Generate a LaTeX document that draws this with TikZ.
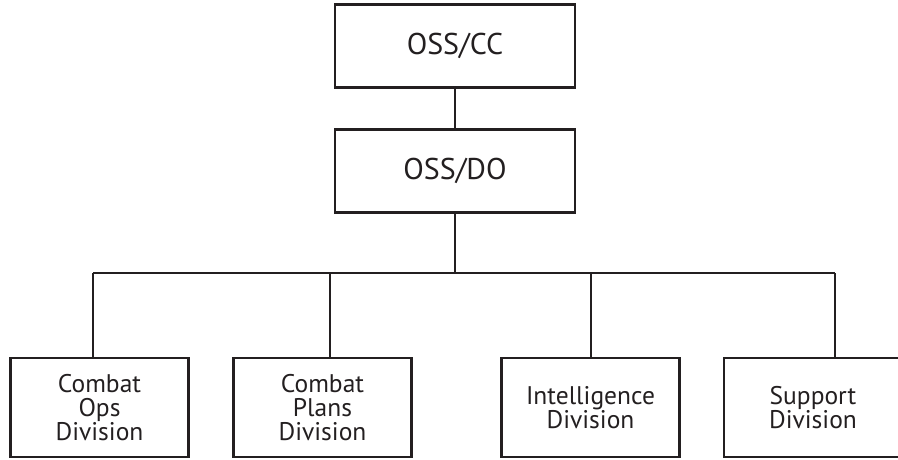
\documentclass[tikz,border=0pt]{standalone}
\usepackage{fontspec}
\setmainfont{PT Sans}
\definecolor{ink}{HTML}{231F20}
\begin{document}
\begin{tikzpicture}[x=1pt,y=1pt,
  topbox/.style={draw=ink, line width=2.7pt, minimum width=240pt, minimum height=83pt, inner sep=0pt, text=ink, font=\fontsize{30}{30}\selectfont},
  divbox/.style={draw=ink, line width=2.7pt, minimum width=178pt, minimum height=99pt, inner sep=0pt, align=center, text=ink, font=\fontsize{25.5}{24}\selectfont},
  conn/.style={draw=ink, line width=2.7pt}]
\useasboundingbox (0,0) rectangle (898,459);
\node[topbox] (cc) at (455,413) {OSS/CC};
\node[topbox] (do) at (455,288) {OSS/DO};
\node[divbox] (b1) at (99.5,51.5) {Combat\\Ops\\Division};
\node[divbox] (b2) at (322.5,51.5) {Combat\\Plans\\Division};
\node[divbox] (b3) at (590.5,51.5) {Intelligence\\Division};
\node[divbox] (b4) at (813,51.5) {Support\\Division};
\coordinate (j1) at (93,186);
\coordinate (j2) at (330,186);
\coordinate (j3) at (591,186);
\coordinate (j4) at (835,186);
\draw[conn] (cc) -- (do);
\draw[conn] (do.south) -- (do.south |- j1);
\draw[conn] (j1) -- (j4);
\draw[conn] (j1) -- (j1 |- b1.north);
\draw[conn] (j2) -- (j2 |- b2.north);
\draw[conn] (j3) -- (j3 |- b3.north);
\draw[conn] (j4) -- (j4 |- b4.north);
\end{tikzpicture}
\end{document}
